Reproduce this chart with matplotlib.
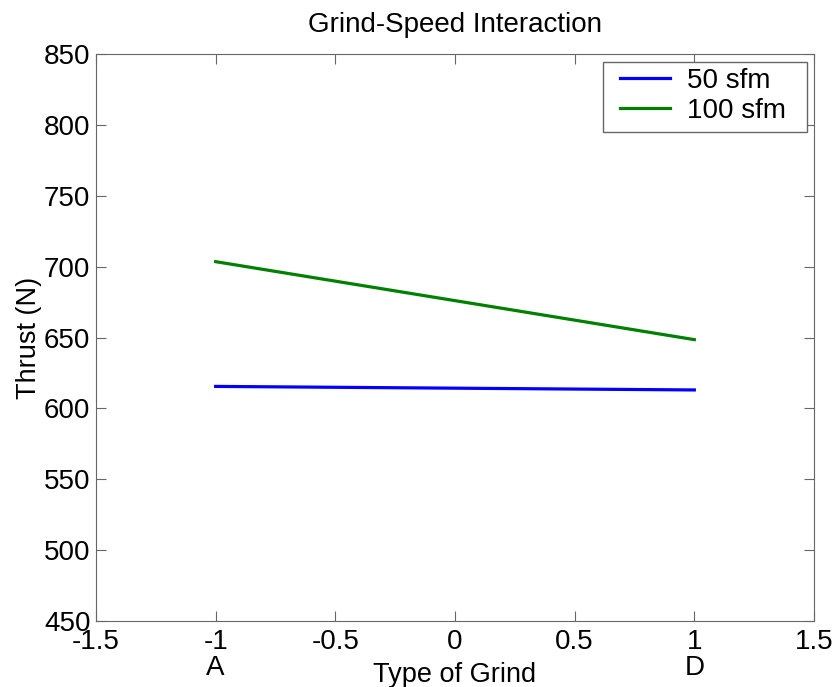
import numpy as np
import matplotlib
matplotlib.use("Agg")
from matplotlib import pyplot as plt
from matplotlib.patches import Rectangle

plt.rcParams['font.family'] = ['Liberation Sans', 'DejaVu Sans']

# dados
grind = [-1, 1]
thrust_50 = [615.5, 613.0]
thrust_100 = [703.5, 648.5]
series_labels = ['50 sfm', '100 sfm']
x_ticks = [-1.5, -1, -0.5, 0, 0.5, 1, 1.5]
x_ticklabels = ['-1.5', '-1', '-0.5', '0', '0.5', '1', '1.5']
y_ticks = [450, 500, 550, 600, 650, 700, 750, 800, 850]
grind_names = ['A', 'D']

W, H = 835, 687
fig = plt.figure(figsize=(W/100, H/100), dpi=100)
# caixa dos eixos em pixels: x 96..814, y 54..621
ax = fig.add_axes([96/W, 1 - 621/H, (814-96)/W, (621-54)/H])

def px(x, y):
    # pixel da figura -> coordenada relativa dos eixos
    return (x - 96) / 718, (621 - y) / 567

ax.plot(grind, thrust_50, color=(0, 0, 1), lw=2.3, label=series_labels[0])
ax.plot(grind, thrust_100, color=(0, 0.5, 0), lw=2.3, label=series_labels[1])

ax.set_xlim(-1.5, 1.5)
ax.set_ylim(450, 850)
ax.set_xticks(x_ticks)
ax.set_xticklabels(x_ticklabels)
ax.set_yticks(y_ticks)
ax.tick_params(direction='in', length=7, labelsize=20, color='#666666')
ax.tick_params(axis='x', pad=6)
ax.tick_params(axis='y', pad=4)
ax.tick_params(top=True, right=True)
for s in ax.spines.values():
    s.set_color('#666666')

# nomes dos tipos de rebolo abaixo dos ticks
for x, nome in zip(grind, grind_names):
    ax.text(x, px(0, 675)[1], nome, transform=ax.get_xaxis_transform(),
            ha='center', va='baseline', fontsize=20)

ax.set_xlabel('Type of Grind', fontsize=19.5)
ax.xaxis.label.set_va('baseline')
ax.xaxis.set_label_coords(0.5, px(0, 682)[1])
ax.set_ylabel('Thrust (N)', fontsize=19.5)
ax.yaxis.label.set_va('center')
ax.yaxis.set_label_coords(px(29, 0)[0], 0.5)
ax.set_title('Grind-Speed Interaction', fontsize=20, pad=16)

# legenda sem moldura + moldura desenhada a parte (estilo matlab)
leg = ax.legend(loc='upper left', bbox_to_anchor=px(620, 68), fontsize=20,
                frameon=False, handlelength=1.8, handletextpad=0.6,
                borderpad=0, labelspacing=0.15, borderaxespad=0)
x0, y0 = px(603, 132)
x1, y1 = px(807, 62)
ax.add_patch(Rectangle((x0, y0), x1 - x0, y1 - y0, transform=ax.transAxes,
                       facecolor='white', edgecolor='#666666', lw=1, zorder=4))
leg.set_zorder(5)

fig.savefig('out.png', dpi=100)
